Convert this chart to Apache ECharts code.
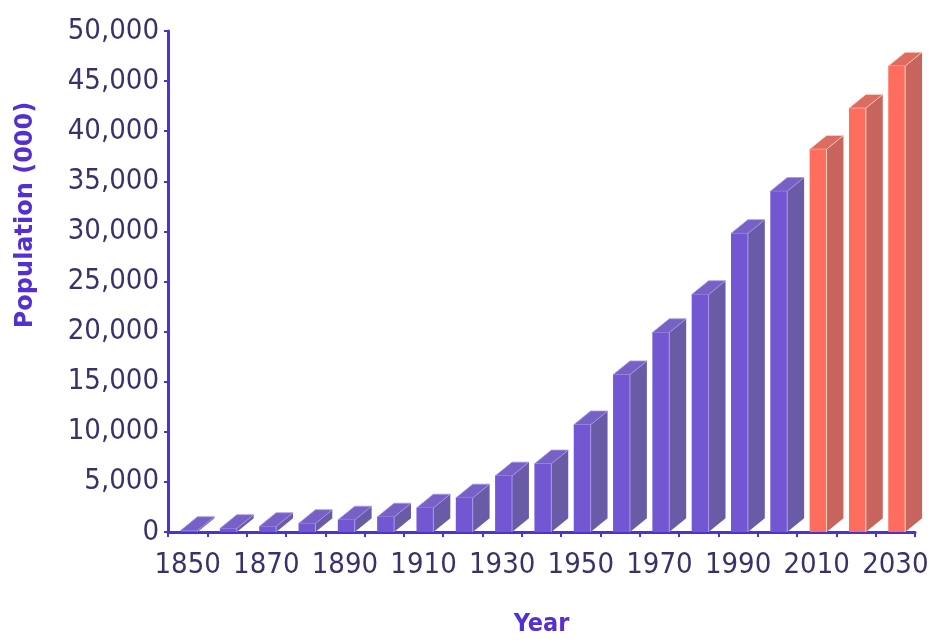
<!DOCTYPE html>
<html>
<head>
<meta charset="utf-8">
<script src="https://cdn.jsdelivr.net/npm/echarts@6/dist/echarts.min.js"></script>
<style>
  html, body { margin: 0; padding: 0; background: #ffffff; }
  #chart { width: 946px; height: 642px; }
</style>
</head>
<body>
<div id="chart"></div>
<script>
// Census years and population in thousands
const years = ['1850', '1860', '1870', '1880', '1890', '1900', '1910', '1920', '1930', '1940',
               '1950', '1960', '1970', '1980', '1990', '2000', '2010', '2020', '2030'];
const population = [150, 350, 550, 850, 1200, 1500, 2400, 3400, 5600, 6800,
                     10700, 15700, 19900, 23700, 29800, 34000, 38200, 42300, 46500];
// Years from here on are projections
const firstProjectedYear = '2010';

// Value axis range
const yMin = 0, yMax = 50000, yStep = 5000;

const splitIndex = years.indexOf(firstProjectedYear);
const actualData = years.slice(0, splitIndex).map((y, i) => [y, population[i]]);
const projectedData = years.slice(splitIndex).map((y, i) => [y, population[splitIndex + i]]);

const purple = { front: '#7357d2', side: '#695ba6', top: '#7761c4', edge: '#a996f0' };
const coral = { front: '#ff6d5e', side: '#c8645e', top: '#dc6c61', edge: '#ffd2b8' };

// Pseudo-3D column: front face, right side face and top face
function column3d(colors) {
  return function (params, api) {
    const cat = api.value(0);
    const val = api.value(1);
    const top = api.coord([cat, val]);
    const base = api.coord([cat, 0]);
    const band = api.size([1, 0])[0];
    const w = band * 0.43;
    const dx = band * 0.43;
    const dy = band * 0.35;
    const x0 = top[0] - band * 0.18;
    const x1 = x0 + w;
    const yT = top[1];
    const yB = base[1];
    return {
      type: 'group',
      children: [
        {
          type: 'polygon',
          shape: { points: [[x1, yT], [x1 + dx, yT - dy], [x1 + dx, yB - dy], [x1, yB]] },
          style: { fill: colors.side }
        },
        {
          type: 'polygon',
          shape: { points: [[x0, yT], [x1, yT], [x1 + dx, yT - dy], [x0 + dx, yT - dy]] },
          style: { fill: colors.top, stroke: colors.edge, lineWidth: 0.8 }
        },
        {
          type: 'rect',
          shape: { x: x0, y: yT, width: w, height: Math.max(yB - yT, 0) },
          style: { fill: colors.front }
        },
        {
          type: 'line',
          shape: { x1: x1, y1: yT, x2: x1, y2: yB },
          style: { stroke: colors.edge, lineWidth: 1 }
        }
      ]
    };
  };
}

const axisColor = '#4b32d2';
const labelColor = '#38326c';
const tickFont = "'DejaVu Sans Condensed', 'DejaVu Sans', sans-serif";

const chart = echarts.init(document.getElementById('chart'), null, { renderer: 'canvas' });

chart.setOption({
  backgroundColor: '#ffffff',
  animation: false,
  grid: {
    left: 168, right: 31, top: 31, bottom: 110,
    containLabel: false,
    outerBoundsMode: 'none'
  },
  xAxis: {
    type: 'category',
    data: years,
    boundaryGap: true,
    name: 'Year',
    nameLocation: 'middle',
    nameGap: 80,
    nameTextStyle: {
      color: '#5530d0',
      fontFamily: tickFont,
      fontWeight: 'bold',
      fontSize: 25
    },
    axisLine: { show: true, lineStyle: { color: axisColor, width: 3 } },
    axisTick: { show: true, interval: 0, inside: false, length: 5, lineStyle: { color: axisColor, width: 2 } },
    axisLabel: {
      interval: 1,
      margin: 19,
      color: labelColor,
      fontFamily: tickFont,
      fontSize: 29
    },
    splitLine: { show: false }
  },
  yAxis: {
    type: 'value',
    min: yMin,
    max: yMax,
    interval: yStep,
    axisLine: { show: true, lineStyle: { color: axisColor, width: 3 } },
    axisTick: { show: true, inside: false, length: 4, lineStyle: { color: axisColor, width: 2 } },
    axisLabel: {
      margin: 9,
      color: labelColor,
      fontFamily: tickFont,
      fontSize: 29,
      formatter: v => v.toLocaleString('en-US')
    },
    splitLine: { show: false }
  },
  graphic: [
    {
      type: 'text',
      x: 26,
      y: 215,
      rotation: Math.PI / 2,
      style: {
        text: 'Population (000)',
        fill: '#5530d0',
        font: "bold 24px 'DejaVu Sans', sans-serif",
        align: 'center',
        verticalAlign: 'middle'
      }
    }
  ],
  series: [
    {
      name: 'Actual',
      type: 'custom',
      renderItem: column3d(purple),
      encode: { x: 0, y: 1 },
      data: actualData,
      clip: false
    },
    {
      name: 'Projected',
      type: 'custom',
      renderItem: column3d(coral),
      encode: { x: 0, y: 1 },
      data: projectedData,
      clip: false
    }
  ]
});
</script>
</body>
</html>
